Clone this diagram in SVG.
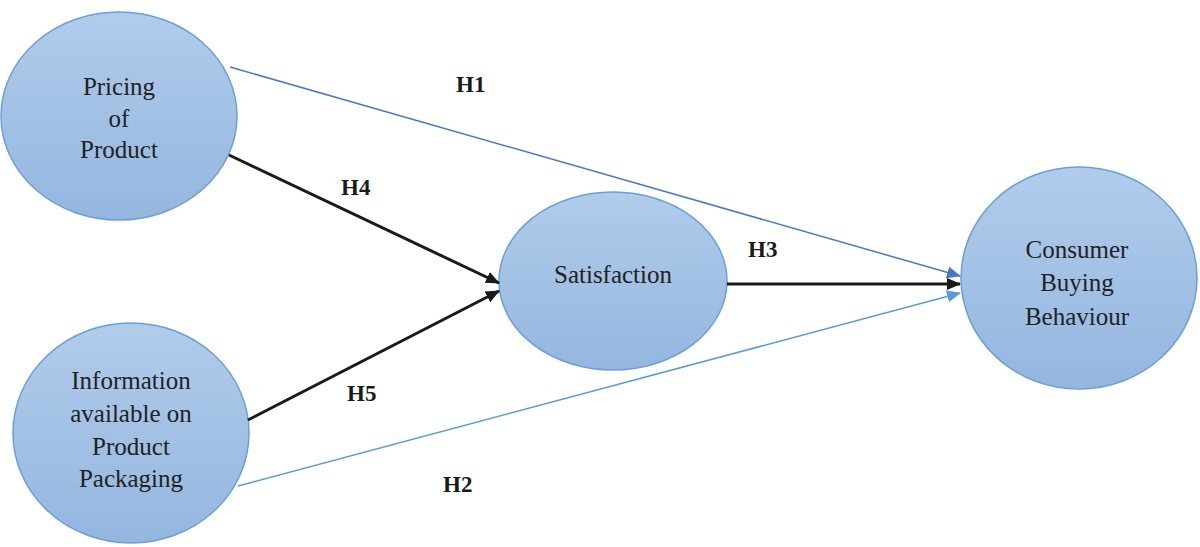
<svg xmlns="http://www.w3.org/2000/svg" width="1200" height="547" viewBox="0 0 1200 547">
<style>
.node ellipse{fill:url(#g);stroke:#6a9fd8;stroke-width:1.5}
.lbl{font-size:25px;fill:#222;text-anchor:middle}
.h{font-size:23px;font-weight:bold;fill:#1a1a1a}
.blk{stroke:#1a1a1a;stroke-width:3;fill:none}
.b1{stroke:#4a78c8;stroke-width:1.5;fill:none}
.b2{stroke:#5b9bd5;stroke-width:1.5;fill:none}
</style>
<defs>
<linearGradient id="g" x1="0" y1="0" x2="0" y2="1">
<stop offset="0" stop-color="#b1cceb"/>
<stop offset="1" stop-color="#94b6df"/>
</linearGradient>
<marker id="ak" markerUnits="userSpaceOnUse" markerWidth="14" markerHeight="12" refX="13" refY="6" orient="auto"><path d="M0,0 L14,6 L0,12 Z" fill="#1a1a1a"/></marker>
<marker id="a1" markerUnits="userSpaceOnUse" markerWidth="14" markerHeight="12" refX="13" refY="6" orient="auto"><path d="M0,0 L14,6 L0,12 Z" fill="#4a78c8"/></marker>
<marker id="a2" markerUnits="userSpaceOnUse" markerWidth="14" markerHeight="12" refX="13" refY="6" orient="auto"><path d="M0,0 L14,6 L0,12 Z" fill="#5b9bd5"/></marker>
</defs>
<rect width="1200" height="547" fill="#fff"/>
<g font-family="Liberation Serif, serif">
<g id="n-pricing" class="node">
<ellipse cx="119" cy="116" rx="118" ry="104"/>
<text class="lbl" x="119" y="95">Pricing</text>
<text class="lbl" x="119" y="127">of</text>
<text class="lbl" x="119" y="158">Product</text>
</g>
<g id="n-info" class="node">
<ellipse cx="131" cy="433" rx="118" ry="110"/>
<text class="lbl" x="131" y="389">Information</text>
<text class="lbl" x="131" y="422">available on</text>
<text class="lbl" x="131" y="455">Product</text>
<text class="lbl" x="131" y="487">Packaging</text>
</g>
<g id="n-satisfaction" class="node">
<ellipse cx="613" cy="281" rx="114" ry="89"/>
<text class="lbl" x="613" y="283">Satisfaction</text>
</g>
<g id="n-consumer" class="node">
<ellipse cx="1079" cy="278" rx="118" ry="111"/>
<text class="lbl" x="1077" y="258">Consumer</text>
<text class="lbl" x="1077" y="291">Buying</text>
<text class="lbl" x="1077" y="325">Behaviour</text>
</g>
<g id="connectors">
<line class="b1" x1="230" y1="67" x2="960" y2="276" marker-end="url(#a1)"/>
<line class="blk" x1="229" y1="155" x2="499" y2="283" marker-end="url(#ak)"/>
<line class="blk" x1="248" y1="420" x2="499" y2="291" marker-end="url(#ak)"/>
<line class="blk" x1="727" y1="284" x2="960" y2="284" marker-end="url(#ak)"/>
<line class="b2" x1="238" y1="486" x2="960" y2="293" marker-end="url(#a2)"/>
</g>
<g id="labels">
<text class="h" x="456" y="92">H1</text>
<text class="h" x="341" y="195">H4</text>
<text class="h" x="748" y="257">H3</text>
<text class="h" x="347" y="401">H5</text>
<text class="h" x="443" y="492">H2</text>
</g>
</g>
</svg>
